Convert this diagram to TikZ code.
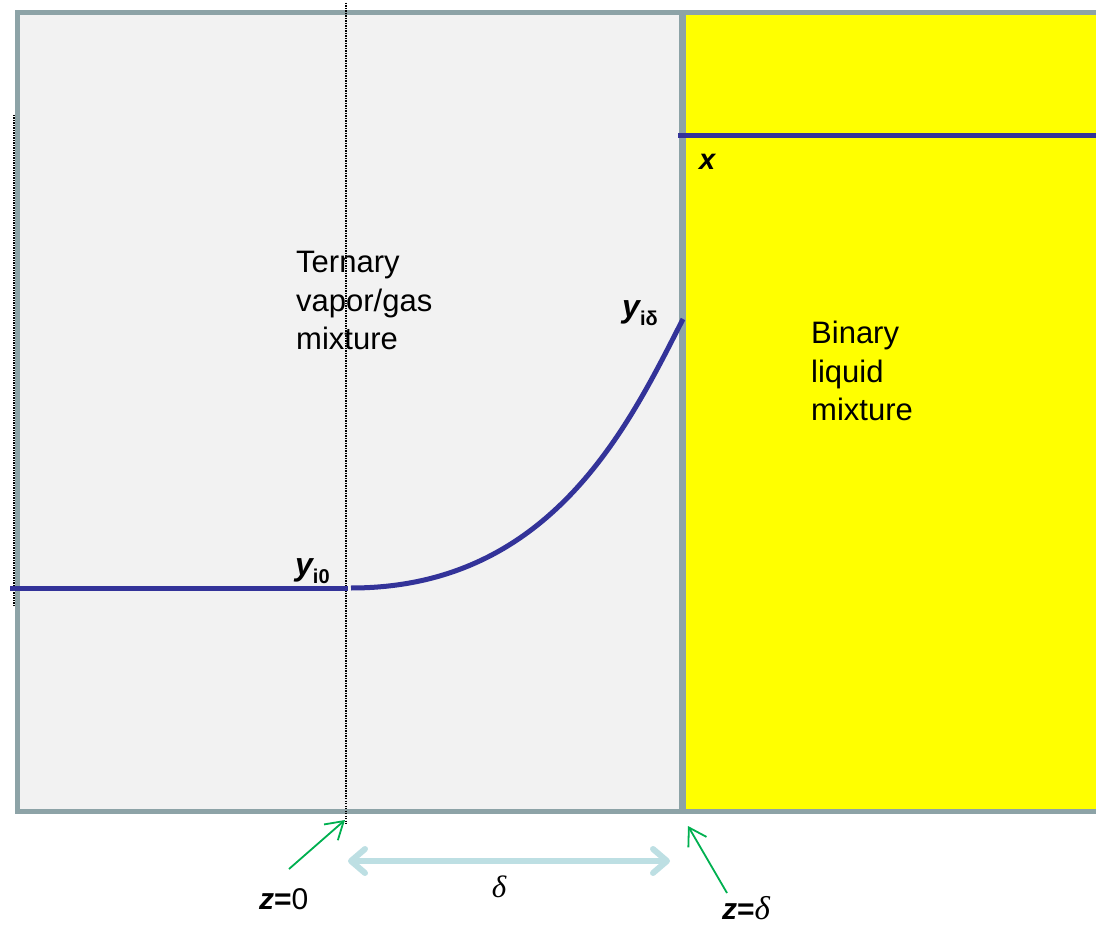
\documentclass[tikz,border=0pt]{standalone}
\usepackage{fontspec}
\setmainfont{Liberation Sans}
\newfontfamily\seriffont{Liberation Serif}
\usetikzlibrary{arrows.meta}
\definecolor{framegray}{HTML}{8DA3A7}
\definecolor{gasfill}{HTML}{F2F2F2}
\definecolor{liqfill}{HTML}{FFFF00}
\definecolor{curveblue}{HTML}{333399}
\definecolor{arrgreen}{HTML}{00B050}
\definecolor{deltablue}{HTML}{BDDFE3}
\tikzset{
  frameline/.style={draw=framegray, line width=5pt},
  sepline/.style={draw=framegray, line width=7pt},
  blueline/.style={draw=curveblue, line width=5pt},
  dotline/.style={draw=black, line width=1.4pt, dash pattern=on 1.2pt off 1.3pt},
  greenarrow/.style={draw=arrgreen, line width=1.8pt, -{Straight Barb[length=17pt,width=21pt]}},
  deltaarrow/.style={draw=deltablue, line width=6pt, line cap=round,
     {Straight Barb[round,length=14pt,width=24pt]}-{Straight Barb[round,length=14pt,width=24pt]}},
  bigtext/.style={inner sep=0pt, font=\fontsize{31}{38.5}\selectfont, align=left, anchor=north west},
  sym/.style={inner sep=0pt, anchor=base west},
}
\begin{document}
\begin{tikzpicture}[x=1pt,y=-1pt]
\useasboundingbox (0,0) rectangle (1096,928);
% regions
\fill[gasfill] (17,13) rectangle (682,811);
\fill[liqfill] (682,13) rectangle (1096,811);
% dotted guides
\coordinate (dtop) at (346,3);
\coordinate (dbot) at (346,824);
\coordinate (ltop) at (14,115);
\coordinate (lbot) at (14,607);
\draw[dotline] (ltop) -- (lbot);
% frame
\draw[frameline] (1096,13) -- (17,13) -- (17,811) -- (1096,811);
\draw[sepline] (682,13) -- (682,811);
\draw[dotline] (dtop) -- (dbot);
% liquid composition line
\coordinate (xl) at (678,136);
\coordinate (xr) at (1096,136);
\draw[blueline] (xl) -- (xr);
% gas profile
\coordinate (g0) at (10,588);
\coordinate (g1) at (348,588);
\draw[blueline] (g0) -- (g1);
\coordinate (c0) at (351,588);
\coordinate (c1) at (683,319);
\draw[blueline] (c0) .. controls (551,588) and (628.5,426) .. (c1);
% text
\node[bigtext] (gas) at (296,251) {Ternary\\vapor/gas\\mixture};
\node[bigtext] (liq) at (811,321) {Binary\\liquid\\mixture};
\node[sym] (xlab) at (699,170) {\fontsize{29}{29}\selectfont\bfseries\itshape x};
\node[sym] (yi0) at (295,575) {\fontsize{32}{32}\selectfont\bfseries\itshape y\raisebox{-8pt}{\fontsize{20}{20}\selectfont\upshape i0}};
\node[sym] (yid) at (622,318) {\fontsize{32}{32}\selectfont\bfseries\itshape y\raisebox{-8pt}{\fontsize{20}{20}\selectfont\upshape iδ}};
% bottom annotations
\node[sym] (z0) at (259,909) {\fontsize{30}{30}\selectfont{\bfseries\itshape z}{\bfseries =}0};
\node[sym] (zd) at (722,919) {\fontsize{30}{30}\selectfont{\bfseries\itshape z}{\bfseries =}{\fontsize{33}{33}\selectfont\seriffont\itshape δ}};
\node[sym, anchor=base] (dl) at (499,897) {\fontsize{31}{31}\selectfont\seriffont\itshape δ};
\coordinate (a1s) at (289,869);
\coordinate (a1e) at (345,820);
\coordinate (a2s) at (727,893);
\coordinate (a2e) at (688,826);
\draw[greenarrow] (a1s) -- (a1e);
\draw[greenarrow] (a2s) -- (a2e);
\coordinate (dls) at (348,861);
\coordinate (dle) at (670,861);
\draw[deltaarrow] (dls) -- (dle);
\end{tikzpicture}
\end{document}
